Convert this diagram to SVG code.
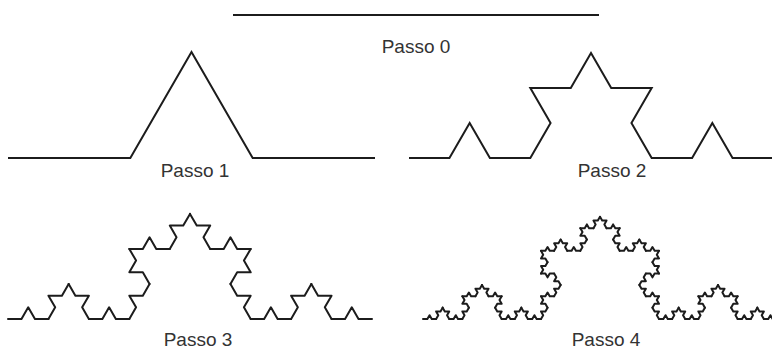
<svg xmlns="http://www.w3.org/2000/svg" width="772" height="349" viewBox="0 0 772 349">
  <style>
    .curve { fill: none; stroke: #1c1c1c; stroke-width: 2; stroke-linejoin: miter; }
    .koch { fill: none; stroke: #1c1c1c; stroke-width: 2; stroke-linejoin: round; stroke-linecap: round; vector-effect: non-scaling-stroke; }
    .label { font-family: "Liberation Sans", Arial, sans-serif; font-size: 19px; fill: #333333; text-anchor: middle; }
  </style>
  <defs>
    <!-- Koch generator on a unit-length base, built recursively: each level is four thirds of the previous one -->
    <polyline id="k1" class="koch" points="0,0 0.333333,0 0.5,-0.288675 0.666667,0 1,0"/>
    <g id="k2">
      <use href="#k1" transform="scale(0.333333)"/>
      <use href="#k1" transform="translate(0.333333,0) rotate(-60) scale(0.333333)"/>
      <use href="#k1" transform="translate(0.5,-0.288675) rotate(60) scale(0.333333)"/>
      <use href="#k1" transform="translate(0.666667,0) scale(0.333333)"/>
    </g>
    <g id="k3">
      <use href="#k2" transform="scale(0.333333)"/>
      <use href="#k2" transform="translate(0.333333,0) rotate(-60) scale(0.333333)"/>
      <use href="#k2" transform="translate(0.5,-0.288675) rotate(60) scale(0.333333)"/>
      <use href="#k2" transform="translate(0.666667,0) scale(0.333333)"/>
    </g>
    <g id="k4">
      <use href="#k3" transform="scale(0.333333)"/>
      <use href="#k3" transform="translate(0.333333,0) rotate(-60) scale(0.333333)"/>
      <use href="#k3" transform="translate(0.5,-0.288675) rotate(60) scale(0.333333)"/>
      <use href="#k3" transform="translate(0.666667,0) scale(0.333333)"/>
    </g>
  </defs>

  <rect width="772" height="349" fill="#ffffff"/>

  <!-- Step 0: the initial segment -->
  <g id="step0">
    <line class="curve" x1="233" y1="15" x2="599" y2="15"/>
    <text class="label" x="416" y="53">Passo 0</text>
  </g>

  <!-- Step 1 -->
  <g id="step1">
    <polyline class="curve" points="8,158 130.33,158 191.5,52.06 252.67,158 375,158"/>
    <text class="label" x="195" y="177">Passo 1</text>
  </g>

  <!-- Step 2 -->
  <g id="step2">
    <polyline class="curve" points="409,158 449.44,158 469.67,122.97 489.89,158 530.33,158 550.56,122.97 530.33,87.95 570.78,87.95 591,52.92 611.22,87.95 651.67,87.95 631.44,122.97 651.67,158 692.11,158 712.33,122.97 732.56,158 773,158"/>
    <text class="label" x="612" y="177">Passo 2</text>
  </g>

  <!-- Step 3 -->
  <g id="step3">
    <use href="#k3" transform="translate(8,319) scale(364)"/>
    <text class="label" x="198" y="346">Passo 3</text>
  </g>

  <!-- Step 4 -->
  <g id="step4">
    <use href="#k4" transform="translate(423,319) scale(354)"/>
    <text class="label" x="606" y="346">Passo 4</text>
  </g>
</svg>
